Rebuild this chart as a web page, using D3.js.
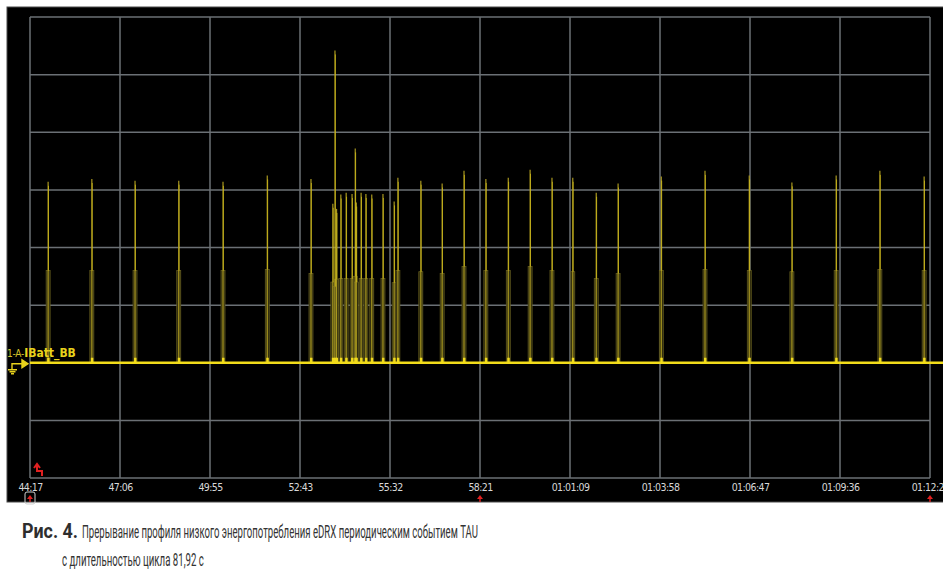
<!DOCTYPE html>
<html>
<head>
<meta charset="utf-8">
<script src="https://cdn.jsdelivr.net/npm/d3@7"></script>
<style>
  html, body { margin: 0; padding: 0; background: #fff; }
  svg { display: block; }
</style>
</head>
<body>
<svg id="chart" width="943" height="588"></svg>
<script>
// ---- data (time in seconds after 44:17, current in grid divisions) ----
const tickLabels = ["44:17","47:06","49:55","52:43","55:32","58:21","01:01:09","01:03:58","01:06:47","01:09:36","01:12:25"];
const timeSpan = 1688;           // 44:17 -> 01:12:25
const spikeTimes    = [34, 116, 197, 279, 362, 445, 527, 568, 572, 575, 583, 593, 604, 610, 612, 621, 630, 641, 662, 683, 690, 733, 773, 814, 855, 897, 938, 979, 1018, 1062, 1103, 1184, 1266, 1349, 1429, 1512, 1594, 1677];
const spikePeaks    = [3.14, 3.19, 3.16, 3.16, 3.14, 3.25, 3.19, 2.76, 5.42, 2.67, 2.92, 2.95, 2.93, 3.72, 2.78, 2.95, 2.93, 2.92, 2.93, 2.80, 3.21, 3.16, 3.11, 3.33, 3.19, 3.21, 3.35, 3.21, 3.21, 2.95, 3.11, 3.23, 3.33, 3.25, 3.13, 3.25, 3.33, 3.23];
const spikeShoulder = [1.60, 1.60, 1.60, 1.60, 1.60, 1.62, 1.55, 1.40, 1.32, 1.45, 1.46, 1.46, 1.46, 1.50, 1.40, 1.46, 1.46, 1.46, 1.46, 1.39, 1.60, 1.58, 1.55, 1.67, 1.60, 1.60, 1.67, 1.60, 1.58, 1.46, 1.55, 1.60, 1.62, 1.60, 1.58, 1.60, 1.62, 1.60];
const channelPrefix = "1-A-";
const channelName = "IBatt_BB";
const captionBold = "Рис. 4.";
const captionLine1 = "Прерывание профиля низкого энергопотребления eDRX периодическим событием TAU";
const captionLine2 = "с длительностью цикла 81,92 с";

// ---- layout ----
const svg = d3.select("#chart");
const x = d3.scaleLinear().domain([0, timeSpan]).range([30, 930]);
const y = d3.scaleLinear().domain([-2, 6]).range([478, 17]);

// panel
svg.append("rect").attr("x", 7).attr("y", 7).attr("width", 940).attr("height", 495)
  .attr("fill", "#000").attr("stroke", "#4a4a4a").attr("stroke-width", 1);

// grid
const gridColor = "#6b7075";
const xTicks = d3.range(tickLabels.length).map(i => i * timeSpan / (tickLabels.length - 1));
svg.append("g").selectAll("line").data(xTicks).join("line")
  .attr("x1", d => x(d)).attr("x2", d => x(d))
  .attr("y1", y(6)).attr("y2", y(-2))
  .attr("stroke", gridColor).attr("stroke-width", 1.5);
svg.append("g").selectAll("line").data(d3.range(-2, 7)).join("line")
  .attr("x1", x(0)).attr("x2", x(timeSpan))
  .attr("y1", d => y(d)).attr("y2", d => y(d))
  .attr("stroke", gridColor).attr("stroke-width", 1.5);

// x-axis labels
const xAxis = d3.axisBottom(x).tickValues(xTicks).tickFormat((d, i) => tickLabels[i]).tickSize(0).tickPadding(6);
const gx = svg.append("g").attr("transform", `translate(0,${y(-2)})`).call(xAxis);
gx.select(".domain").remove();
gx.selectAll("text").attr("fill", "#d8d8d8").attr("font-family", "'DejaVu Sans Condensed', 'Liberation Sans', sans-serif")
  .attr("font-size", 10.5).attr("letter-spacing", -0.6);

// spikes
const spikes = spikeTimes.map((t, i) => ({t, p: spikePeaks[i], s: spikeShoulder[i]}));
const gs = svg.append("g");
gs.selectAll("rect.sh").data(spikes).join("rect").attr("class", "sh")
  .attr("x", d => x(d.t) - 2).attr("width", 4)
  .attr("y", d => y(d.s)).attr("height", d => y(0) - y(d.s))
  .attr("fill", "#2e2b0e").attr("stroke", "#6a6221").attr("stroke-width", 0.7);
gs.selectAll("line.pk").data(spikes).join("line").attr("class", "pk")
  .attr("x1", d => x(d.t)).attr("x2", d => x(d.t))
  .attr("y1", y(0)).attr("y2", d => y(d.p))
  .attr("stroke", "#a8971f").attr("stroke-width", 1.2);
gs.selectAll("line.br").data(spikes).join("line").attr("class", "br")
  .attr("x1", d => x(d.t) + 0.4).attr("x2", d => x(d.t) + 0.4)
  .attr("y1", d => y(d.s)).attr("y2", d => y(d.p) + 4)
  .attr("stroke", "#e0c91e").attr("stroke-width", 0.9).attr("opacity", 0.75);
gs.selectAll("rect.bs").data(spikes).join("rect").attr("class", "bs")
  .attr("x", d => x(d.t) - 1).attr("width", 2.5)
  .attr("y", y(0) - 5).attr("height", 5)
  .attr("fill", "#f0da1c");

// baseline
svg.append("line").attr("x1", x(0)).attr("x2", 943).attr("y1", y(0)).attr("y2", y(0))
  .attr("stroke", "#f2dc1a").attr("stroke-width", 2.6);

// channel label
const lbl = svg.append("text").attr("x", 7).attr("y", y(0) - 6)
  .attr("font-family", "'DejaVu Sans Condensed', 'Liberation Sans', sans-serif");
lbl.append("tspan").text(channelPrefix).attr("fill", "#d4c22a").attr("font-size", 10).attr("letter-spacing", -0.2);
lbl.append("tspan").text(channelName).attr("fill", "#e8d21c").attr("font-size", 12).attr("font-weight", "bold");
const sym = svg.append("g").attr("stroke", "#e8d21c").attr("fill", "none").attr("stroke-width", 1.4);
sym.append("path").attr("d", `M12,${y(0)+7} V${y(0)+1} H24`);
sym.append("path").attr("d", `M22,${y(0)-3} L28,${y(0)+1} L22,${y(0)+5} Z`).attr("fill", "#e8d21c");
sym.append("path").attr("d", `M8,${y(0)+7} H17 M9.5,${y(0)+9} H15.5 M11,${y(0)+11} H14`);

// red markers
svg.append("path").attr("d", `M34,${y(-2)-10} L37,${y(-2)-14} L40,${y(-2)-10} M37,${y(-2)-13} V${y(-2)-7} H42 V${y(-2)-2}`)
  .attr("stroke", "#e02020").attr("stroke-width", 2).attr("fill", "none");
svg.append("rect").attr("x", 25).attr("y", 492).attr("width", 10).attr("height", 12).attr("rx", 2)
  .attr("fill", "none").attr("stroke", "#cfcfcf").attr("stroke-width", 1);
svg.append("g").selectAll("path").data([0, xTicks[5], timeSpan]).join("path")
  .attr("d", d => `M${x(d)-3},${499} L${x(d)},${495} L${x(d)+3},${499} Z M${x(d)-0.7},498 h1.4 v4 h-1.4 Z`)
  .attr("fill", "#e02020");

// caption: condensed look via horizontal scaling to the measured width
const capFont = "Roboto, 'Noto Sans', sans-serif";
function fitText(str, x0, yb, width, size, weight, color) {
  const g = svg.append("g").attr("transform", `translate(${x0},${yb})`);
  const t = g.append("text").text(str).attr("font-family", capFont).attr("font-size", size)
    .attr("font-weight", weight).attr("fill", color);
  const w = t.node().getComputedTextLength();
  t.attr("transform", `scale(${width / w},1)`);
}
fitText(captionBold, 22, 538, 56, 19.5, "bold", "#2e2e2e");
fitText(captionLine1, 82, 538, 396, 19, "normal", "#333");
fitText(captionLine2, 62, 566, 142, 19, "normal", "#333");
</script>
</body>
</html>
